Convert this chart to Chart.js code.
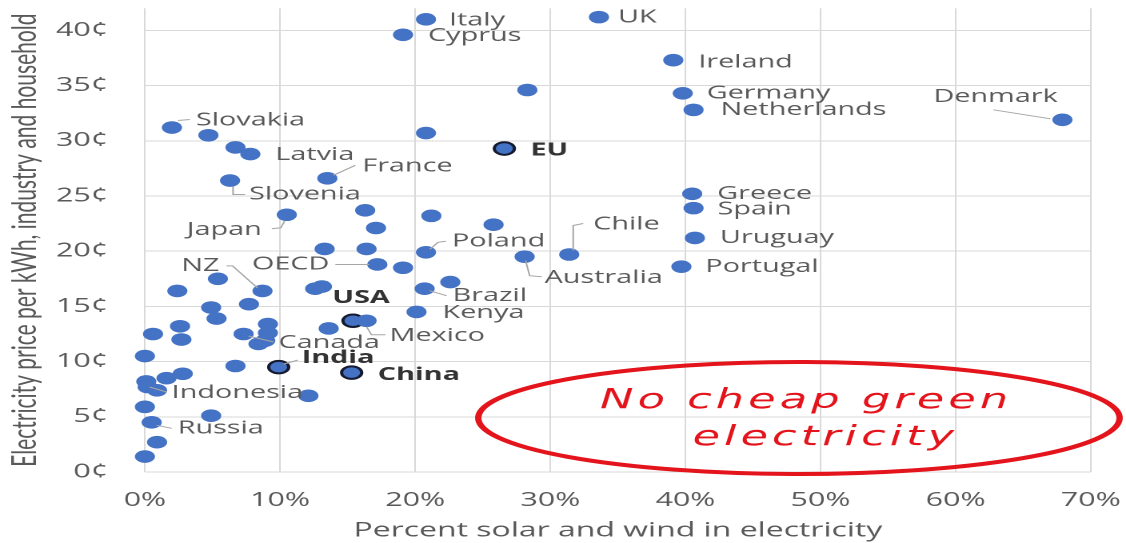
<!DOCTYPE html>
<html>
<head>
<meta charset="utf-8">
<script src="https://cdn.jsdelivr.net/npm/chart.js@4.4.1/dist/chart.umd.min.js"></script>
<style>
html, body { margin: 0; padding: 0; background: #fff; overflow: hidden; }
/* the original picture is stretched sideways, so the chart is drawn narrow and stretched */
#wrap { position: absolute; left: 0; top: 0; width: 704px; height: 543px; transform: scaleX(1.59943); transform-origin: 0 0; }
</style>
</head>
<body>
<div id="wrap"><canvas id="grafico" width="704" height="543"></canvas></div>
<script>
var COUNTRIES = ['Italy', 'Cyprus', 'UK', 'Ireland', '', 'Germany', 'Netherlands', 'Denmark', 'Slovakia', '',
    '', '', 'Latvia', 'EU', 'France', 'Slovenia', 'Greece', 'Spain', '', '',
    'Japan', '', '', 'Uruguay', '', '', 'Poland', 'Chile', 'Australia', 'OECD',
    '', 'Portugal', '', '', 'NZ', '', '', '', 'Brazil', '',
    '', 'Kenya', '', 'USA', 'Mexico', '', '', '', '', '',
    'Canada', '', '', '', '', '', 'India', 'China', '', '',
    '', 'Indonesia', '', '', '', '', 'Russia', '', ''];
var SOLAR_WIND = [20.8, 19.1, 33.6, 39.1, 28.3, 39.8, 40.6, 67.9, 2.0, 4.7,
    20.8, 6.7, 7.8, 26.6, 13.5, 6.3, 40.5, 40.6, 16.3, 21.2,
    10.5, 25.8, 17.1, 40.7, 13.3, 16.4, 20.8, 31.4, 28.1, 17.2,
    19.1, 39.7, 5.4, 22.6, 8.7, 2.4, 13.1, 12.6, 20.7, 7.7,
    4.9, 20.1, 5.3, 15.4, 16.4, 2.6, 9.1, 13.6, 0.6, 9.1,
    7.3, 2.7, 8.4, 8.9, 0.0, 6.7, 9.9, 15.3, 2.8, 1.6,
    0.1, 0.2, 0.9, 12.1, 0.0, 4.9, 0.5, 0.9, 0.0];
var PRICE = [41.0, 39.6, 41.2, 37.3, 34.6, 34.3, 32.8, 31.9, 31.2, 30.5,
    30.7, 29.4, 28.8, 29.3, 26.6, 26.4, 25.2, 23.9, 23.7, 23.2,
    23.3, 22.4, 22.1, 21.2, 20.2, 20.2, 19.9, 19.7, 19.5, 18.8,
    18.5, 18.6, 17.5, 17.2, 16.4, 16.4, 16.8, 16.6, 16.6, 15.2,
    14.9, 14.5, 13.9, 13.7, 13.7, 13.2, 13.4, 13.0, 12.5, 12.6,
    12.5, 12.0, 11.6, 11.9, 10.5, 9.6, 9.5, 9.0, 8.9, 8.5,
    8.2, 7.7, 7.4, 6.9, 5.9, 5.1, 4.5, 2.7, 1.4];
var HIGHLIGHT = ['EU', 'USA', 'India', 'China'];
var X_TICKS = [0, 10, 20, 30, 40, 50, 60, 70];
var Y_TICKS = [0, 5, 10, 15, 20, 25, 30, 35, 40];

var S = 1.59943;
var BLUE = '#4472c4';
var GREY_TEXT = '#595959';
var CLEAR = 'rgba(0,0,0,0)';

/* label placement: [dx, dy, align, leader line], in pixels of the stretched picture */
var LABELS = {
    'Italy': [23, 1, 'left'],
    'Cyprus': [25, 1, 'left'],
    'UK': [19, 0, 'left'],
    'Ireland': [25, 2, 'left'],
    'Germany': [24, 0, 'left'],
    'Netherlands': [27, 0, 'left'],
    'Denmark': [-129, -23, 'left', [[-69, -10], [-12, -1]]],
    'Slovakia': [24, -7, 'left', [[6, -7], [18, -8]]],
    'Latvia': [25, 1, 'left'],
    'EU': [26, 2, 'left'],
    'France': [35, -12, 'left', [[6, -3], [28, -13]]],
    'Slovenia': [19, 14, 'left', [[3, 6], [3, 14], [15, 14]]],
    'Greece': [25, 0, 'left'],
    'Spain': [24, 1, 'left'],
    'Japan': [-25, 15, 'right', [[-15, 14], [-6, 13], [-2, 6]]],
    'Uruguay': [25, 0, 'left'],
    'Poland': [26, -11, 'left', [[4, -3], [12, -10], [20, -11]]],
    'Chile': [24, -30, 'left', [[4, -4], [4, -29], [14, -31]]],
    'Australia': [20, 21, 'left', [[1, 4], [5, 19], [17, 20]]],
    'OECD': [-48, 0, 'right', [[-42, 0], [-8, 0]]],
    'Portugal': [24, 0, 'left'],
    'NZ': [-43, -25, 'right', [[-36, -25], [-30, -25], [-5, -3]]],
    'Brazil': [28, 7, 'left', [[5, 2], [22, 7]]],
    'Kenya': [26, 1, 'left'],
    'USA': [8, -23, 'center'],
    'Mexico': [23, 15, 'left', [[0, 6], [5, 14], [19, 14]]],
    'Canada': [35, 9, 'left', [[5, 2], [30, 8]]],
    'India': [23, -9, 'left', [[5, -3], [19, -7]]],
    'China': [26, 2, 'left'],
    'Indonesia': [24, 6, 'left', [[2, 0], [19, 5]]],
    'Russia': [26, 6, 'left', [[5, 3], [20, 6]]]
};

var pointLabels = {
    id: 'pointLabels',
    afterDatasetsDraw: function (chart) {
        var ctx = chart.ctx;
        var meta = chart.getDatasetMeta(0);
        ctx.save();
        ctx.textBaseline = 'middle';
        COUNTRIES.forEach(function (name, i) {
            var lay = LABELS[name];
            if (!name || !lay) return;
            var el = meta.data[i];
            if (lay[3]) {
                ctx.beginPath();
                ctx.strokeStyle = '#a6a6a6';
                ctx.lineWidth = 1;
                lay[3].forEach(function (p, k) {
                    if (k === 0) ctx.moveTo(el.x + p[0] / S, el.y + p[1]);
                    else ctx.lineTo(el.x + p[0] / S, el.y + p[1]);
                });
                ctx.stroke();
            }
            var bold = HIGHLIGHT.indexOf(name) >= 0;
            ctx.font = (bold ? 'bold ' : '') + '18px "Open Sans"';
            ctx.fillStyle = bold ? '#333333' : GREY_TEXT;
            ctx.textAlign = lay[2];
            ctx.fillText(name, el.x + lay[0] / S, el.y + lay[1]);
        });
        ctx.restore();
    }
};

/* red hand drawn note */
var note = {
    id: 'note',
    afterDraw: function (chart) {
        var ctx = chart.ctx;
        ctx.save();
        ctx.strokeStyle = '#e3141b';
        ctx.lineWidth = 4;
        ctx.beginPath();
        ctx.ellipse(499.5, 418, 200.5, 56, 0, -Math.PI / 2 + 0.02, Math.PI * 1.5 + 0.06);
        ctx.stroke();
        ctx.fillStyle = '#e3141b';
        ctx.font = 'italic 28px "DejaVu Sans"';
        ctx.textAlign = 'center';
        ctx.textBaseline = 'alphabetic';
        ctx.letterSpacing = '2.5px';
        ctx.fillText('No cheap green', 504, 408);
        ctx.fillText('electricity', 516, 445);
        ctx.restore();
    }
};

var ctx = document.getElementById('grafico').getContext('2d');
var points = SOLAR_WIND.map(function (x, i) {
    return { x: x, y: PRICE[i] };
});

var config = {
    type: 'scatter',
    data: {
        datasets: [{
            data: points,
            clip: false,
            pointRadius: 6.3,
            pointHoverRadius: 6.3,
            backgroundColor: BLUE,
            pointBackgroundColor: BLUE,
            pointBorderColor: function (c) {
                return HIGHLIGHT.indexOf(COUNTRIES[c.dataIndex]) >= 0 ? '#151a2e' : BLUE;
            },
            pointBorderWidth: function (c) {
                return HIGHLIGHT.indexOf(COUNTRIES[c.dataIndex]) >= 0 ? 2 : 0;
            }
        }]
    },
    options: {
        responsive: false,
        animation: false,
        devicePixelRatio: 2,
        layout: { padding: { left: 0, right: 22, top: 5, bottom: 0 } },
        plugins: {
            legend: { display: false },
            tooltip: { enabled: false }
        },
        scales: {
            x: {
                type: 'linear',
                min: X_TICKS[0],
                max: X_TICKS[X_TICKS.length - 1],
                afterFit: function (s) { s.height = 71; },
                afterBuildTicks: function (s) {
                    s.ticks = X_TICKS.map(function (v) { return { value: v }; });
                },
                grid: { color: '#d9d9d9', lineWidth: 1, drawTicks: true, tickLength: 17, tickColor: CLEAR },
                border: { display: false },
                ticks: {
                    padding: 0,
                    color: GREY_TEXT,
                    font: { family: 'Open Sans', size: 19 },
                    callback: function (v) { return v + '%'; }
                },
                title: {
                    display: true,
                    text: 'Percent solar and wind in electricity',
                    color: GREY_TEXT,
                    font: { family: 'Open Sans', size: 20 },
                    padding: { top: 0, bottom: 0 }
                }
            },
            y: {
                min: 0,
                max: 42,
                afterFit: function (s) { s.width = 90.6; },
                afterBuildTicks: function (s) {
                    s.ticks = Y_TICKS.map(function (v) { return { value: v }; });
                },
                grid: { color: '#d9d9d9', lineWidth: 1, drawTicks: true, tickLength: 23, tickColor: CLEAR },
                border: { display: false },
                ticks: {
                    padding: 0,
                    color: GREY_TEXT,
                    font: { family: 'Open Sans', size: 19, lineHeight: 0.15 },
                    callback: function (v) { return v + '¢'; }
                },
                title: {
                    display: true,
                    text: 'Electricity price per kWh, industry and household',
                    color: GREY_TEXT,
                    font: { family: 'Lato', size: 21 },
                    padding: { top: 3, bottom: 0 }
                }
            }
        }
    },
    plugins: [pointLabels, note]
};
window.grafico = new Chart(ctx, config);
</script>
</body>
</html>
